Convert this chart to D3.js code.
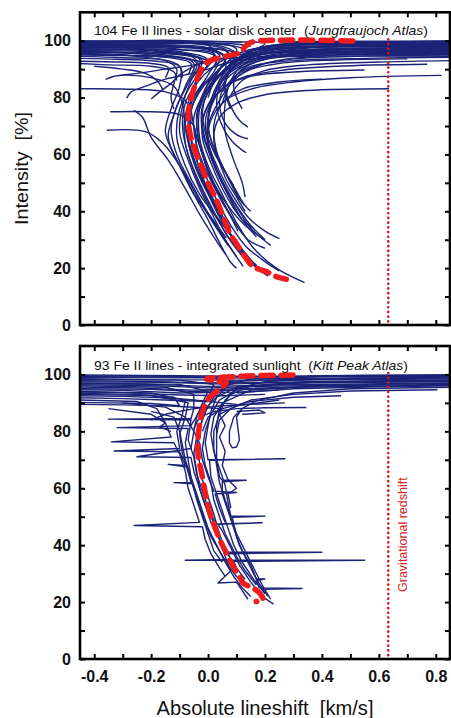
<!DOCTYPE html>
<html><head><meta charset="utf-8">
<script src="https://cdn.jsdelivr.net/npm/d3@7"></script>
<style>html,body{margin:0;padding:0;background:#fff;}svg{display:block;}text{white-space:pre;}</style>
</head><body>
<script>
// ---------------- DATA ----------------
const xDomain = [-0.45, 0.85];
const yDomain = [0, 110];
const xTickValues = [-0.4,-0.3,-0.2,-0.1,0,0.1,0.2,0.3,0.4,0.5,0.6,0.7,0.8];
const xTickLabels = ["-0.4","","-0.2","","0.0","","0.2","","0.4","","0.6","","0.8"];
const yTickValues = [0,10,20,30,40,50,60,70,80,90,100];
const yTickLabels = ["0","","20","","40","","60","","80","","100"];
const gravRedshift = 0.633;
const titles = [
  {lead: "104 Fe II lines - solar disk center  (", ital: "Jungfraujoch Atlas", tail: ")"},
  {lead: "93 Fe II lines - integrated sunlight  (", ital: "Kitt Peak Atlas", tail: ")"}
];
const xLabel = "Absolute lineshift  [km/s]";
const yLabel = "Intensity  [%]";
const gravLabel = "Gravitational redshift";

// mean bisector, disk center (km/s, %)
const topMean = [[0.508,99.9],[0.158,99.6],[0.134,98.3],[0.111,95.8],[0.064,94.6],[-0.006,92.3],[-0.029,88.8],[-0.047,84.0],[-0.064,78.2],[-0.070,73.4],[-0.064,67.6],[-0.047,61.7],[-0.023,55.8],[0.0,50.0],[0.029,44.1],[0.053,38.2],[0.076,32.3],[0.099,28.8],[0.129,24.1],[0.158,20.6],[0.204,18.8],[0.24,17.0],[0.275,16.1]];
// mean bisector, integrated sunlight
const bottomMean = [[0.298,99.8],[0.10,99.3],[-0.006,98.4],[0.03,97.6],[0.064,97.2],[0.041,94.9],[0.006,92.0],[-0.017,87.8],[-0.029,83.1],[-0.035,77.2],[-0.035,71.4],[-0.023,65.5],[-0.012,59.6],[0.0,53.7],[0.018,47.9],[0.041,42.0],[0.064,37.3],[0.088,32.6],[0.111,29.0],[0.123,26.7],[0.158,24.9],[0.181,23.2],[0.193,20.8],[0.169,20.2]];

// individual bisectors, disk center
const topBisectors = [
 [[0.85,97.5],[0.4,97],[0.15,95],[0.05,91],[0.0,85],[-0.03,76],[-0.03,66],[0.0,56],[0.05,46],[0.1,36],[0.16,27],[0.24,20],[0.339,14.9]],
 [[-0.45,98.5],[-0.1,98],[0.05,95],[0.06,90],[-0.02,84],[-0.06,75],[-0.06,65],[-0.03,55],[0.01,45],[0.06,35],[0.11,27],[0.16,21],[0.21,17.2]],
 [[-0.45,97],[-0.15,96],[-0.02,93],[-0.06,86],[-0.09,77],[-0.1,68],[-0.07,58],[-0.03,48],[0.02,38],[0.06,30],[0.1,24],[0.123,20.6]],
 [[0.85,99],[0.3,98.5],[0.12,96],[0.04,90],[-0.03,82],[-0.07,72],[-0.05,62],[-0.02,52],[0.03,42],[0.07,33],[0.12,26],[0.17,21]],
 [[-0.45,99],[0.0,98.5],[0.02,94],[-0.05,86],[-0.1,76],[-0.11,66],[-0.08,56],[-0.03,46],[0.03,38],[0.088,30.6]],
 [[-0.45,96],[-0.2,95],[-0.05,92],[-0.08,84],[-0.12,74],[-0.14,66],[-0.1,56],[-0.05,46],[0.01,38],[0.064,30.6]],
 [[0.85,96.5],[0.5,96],[0.2,94],[0.08,89],[0.02,81],[-0.02,72],[0.0,62],[0.04,52],[0.08,44],[0.12,37],[0.17,31]],
 [[-0.45,98],[0.0,97.5],[0.06,94],[0.03,88],[-0.02,80],[-0.04,70],[-0.02,60],[0.02,50],[0.07,42],[0.12,36],[0.199,29.9]],
 [[0.85,98.5],[0.4,98],[0.17,96],[0.07,91],[0.01,84],[-0.02,75],[0.0,64],[0.04,54],[0.09,45],[0.14,38],[0.2,33],[0.251,30.4]],
 [[0.85,97],[0.35,96.5],[0.15,94],[0.06,88],[0.02,80],[0.0,70],[0.03,60],[0.07,52],[0.1,46],[0.12,43],[0.134,41.7]],
 [[-0.45,97.5],[-0.1,97],[0.03,94],[0.0,88],[-0.05,80],[-0.08,71],[-0.06,61],[-0.02,51],[0.03,41],[0.08,32],[0.15,23]],
 [[-0.356,68.5],[-0.22,68],[-0.16,64],[-0.1,56],[-0.05,46],[0.0,37],[0.04,29],[0.08,22],[0.1,20]],
 [[-0.26,75.5],[-0.23,73],[-0.2,66],[-0.14,58],[-0.08,48],[-0.03,39],[0.02,31],[0.06,25]],
 [[-0.45,95.5],[-0.25,94.5],[-0.1,91],[-0.1,84],[-0.13,76],[-0.15,68],[-0.12,60],[-0.07,51],[-0.02,42],[0.03,34],[0.07,28]],
 [[0.85,95.5],[0.45,95],[0.2,92],[0.1,87],[0.04,79],[0.0,70],[0.01,60],[0.05,50],[0.1,42],[0.15,35],[0.2,30]],
 [[-0.45,99.2],[-0.05,99],[0.07,96],[0.04,90],[-0.01,83],[-0.04,74],[-0.03,64],[0.0,54],[0.04,45],[0.08,38],[0.105,33]],
 [[0.85,98],[0.3,97.5],[0.14,95],[0.08,90],[0.06,84],[0.08,77],[0.11,72],[0.14,69.6]],
 [[-0.45,97.8],[0.0,97],[0.08,93],[0.06,86],[0.04,78],[0.06,71],[0.1,67],[0.14,65.5]],
 [[0.85,97.8],[0.3,97],[0.12,93],[0.05,86],[0.03,78],[0.05,70],[0.09,64],[0.12,61.5],[0.134,60.6]],
 [[0.85,96],[0.3,95.5],[0.13,92],[0.08,86],[0.06,78],[0.06,68],[0.09,58],[0.12,50],[0.13,45]],
 [[0.636,83.1],[0.35,82.5],[0.2,81],[0.1,78],[0.04,73],[0.02,65],[0.05,56],[0.09,48],[0.11,44]],
 [[0.82,87.8],[0.5,87],[0.3,85.5],[0.15,83],[0.06,79],[0.01,72],[0.0,63],[0.03,54],[0.07,46],[0.1,40]],
 [[0.77,91.7],[0.45,91],[0.25,89.5],[0.12,87],[0.04,82],[-0.01,75],[-0.02,66],[0.01,57],[0.05,48],[0.09,41],[0.12,37]],
 [[0.55,89.7],[0.3,89],[0.15,87.5],[0.06,84],[0.01,78],[-0.01,70],[0.02,61],[0.06,54],[0.09,49]],
 [[-0.45,83.1],[-0.3,83],[-0.15,82],[-0.08,79],[-0.06,73],[-0.07,65],[-0.05,57],[-0.01,48],[0.04,40],[0.08,34]],
 [[-0.344,75],[-0.2,75],[-0.1,74],[-0.05,70],[-0.04,63],[-0.01,55],[0.03,47],[0.07,40],[0.1,35]],
 [[-0.36,86.4],[-0.33,87.5],[-0.25,88.5],[-0.15,90],[-0.05,91.5],[0.02,93],[0.1,95],[0.3,96],[0.85,96.5]],
 [[-0.286,79.8],[-0.27,82],[-0.22,84],[-0.15,86.5],[-0.08,88],[0.0,90],[0.06,92],[0.2,94],[0.85,94.5]],
 [[-0.2,79.5],[-0.17,82],[-0.13,85],[-0.1,88],[-0.05,91],[0.0,93],[0.1,94],[0.4,95],[0.85,95.2]],
 [[-0.45,99.8],[0.1,99.6],[0.2,99],[0.15,96],[0.08,92],[0.04,86],[0.02,80]],
 [[-0.45,98.8],[0.05,98],[0.1,95],[0.06,90],[0.0,83],[-0.03,76]],
 [[-0.45,96.5],[-0.2,96],[-0.05,94],[-0.03,90],[-0.05,84],[-0.07,78]],
 [[-0.45,94.5],[-0.3,94],[-0.15,93],[-0.11,90],[-0.12,85],[-0.13,80],[-0.12,76]],
 [[0.85,99.5],[0.4,99.2],[0.2,98],[0.12,95],[0.08,91],[0.06,86]],
 [[0.85,98.8],[0.3,98.4],[0.16,97],[0.1,93],[0.03,87],[0.0,80]],
 [[0.85,97.2],[0.5,96.8],[0.25,95.5],[0.12,92],[0.07,88],[0.06,82],[0.08,76]],
 [[0.85,99.8],[0.6,99.6],[0.3,99.2],[0.2,98]],
 [[-0.45,97.2],[-0.25,96.8],[-0.08,95.5],[0.0,93]],
 [[-0.45,92],[-0.35,91.5],[-0.2,91],[-0.12,89],[-0.11,86]],
 [[0.85,93],[0.6,92.5],[0.35,91.5],[0.2,89.5],[0.12,86],[0.08,81]],
 [[-0.45,99.3],[-0.2,99.1],[0.05,98.8],[0.12,97.5]],
 [[-0.45,98.2],[-0.2,97.9],[0.02,97.2],[0.1,96]],
 [[-0.45,95],[-0.3,94.8],[-0.1,94],[0.0,92]],
 [[0.85,99.2],[0.5,98.9],[0.25,98],[0.15,96.5]],
 [[0.85,96.8],[0.6,96.5],[0.35,96],[0.18,94]],
 [[-0.4,91],[-0.3,90],[-0.22,88.5],[-0.18,86],[-0.16,83]],
 [[0.85,94.2],[0.55,93.8],[0.3,93],[0.15,91],[0.1,88],[0.09,84],[0.1,80],[0.12,76]],
 [[-0.45,99.6],[-0.1,99.4],[0.08,99],[0.15,98]],
 [[-0.45,98.6],[-0.25,98.4],[-0.05,97.8],[0.06,96.5],[0.08,94]],
 [[-0.45,97.6],[-0.3,97.4],[-0.1,96.8],[0.02,95.5],[0.03,92]],
 [[-0.45,96.2],[-0.3,96],[-0.12,95.2],[-0.03,93.5],[-0.04,89]],
 [[-0.45,95.2],[-0.25,94.8],[-0.12,93.8],[-0.06,92],[-0.07,88]],
 [[-0.45,93.8],[-0.32,93.5],[-0.18,92.8],[-0.1,91],[-0.09,87]],
 [[-0.45,92.8],[-0.3,92.5],[-0.2,92],[-0.14,90.5],[-0.15,87]],
 [[-0.45,99.9],[0.0,99.8],[0.12,99.5]],
 [[0.85,99.6],[0.5,99.4],[0.3,98.8],[0.18,97.2],[0.12,94.5]],
 [[0.85,98.4],[0.6,98.2],[0.35,97.6],[0.2,96.2],[0.12,93]],
 [[0.85,97.6],[0.55,97.3],[0.3,96.6],[0.18,95],[0.1,91.5],[0.06,88]],
 [[0.85,96.2],[0.6,95.9],[0.35,95.2],[0.2,93.5],[0.12,90],[0.08,85]],
 [[0.85,95],[0.55,94.6],[0.3,93.6],[0.18,91.5],[0.1,88],[0.05,82]],
 [[0.7,93.6],[0.45,93.2],[0.25,92],[0.14,89.5],[0.08,85],[0.05,78]],
 [[0.85,99.9],[0.5,99.8],[0.25,99.6]],
 [[0.85,98.2],[0.3,97.8],[0.1,95.5],[0.02,91],[-0.04,85],[-0.08,78],[-0.09,70],[-0.07,60],[-0.03,50],[0.02,40],[0.07,31],[0.12,25],[0.18,20]],
 [[-0.45,96.8],[-0.1,96.2],[0.0,93],[-0.03,87],[-0.06,80],[-0.05,70],[-0.02,60],[0.02,50],[0.06,42],[0.1,35],[0.14,30],[0.2,27]],
 [[-0.45,98.3],[-0.1,97.8],[0.04,95],[0.02,89],[-0.04,82],[-0.08,74],[-0.08,64],[-0.05,54],[-0.01,45],[0.04,36],[0.09,28],[0.14,22]],
 [[0.85,97.3],[0.35,96.8],[0.14,94.5],[0.05,89],[-0.01,82],[-0.05,73],[-0.04,63],[-0.01,53],[0.03,44],[0.08,35],[0.13,28],[0.19,23],[0.25,19]],
 [[-0.45,95.8],[-0.15,95],[-0.04,92],[-0.07,85],[-0.11,77],[-0.13,69],[-0.11,60],[-0.06,50],[-0.01,41],[0.04,33],[0.08,27],[0.1,24]],
 [[0.85,98.6],[0.4,98.2],[0.18,96.5],[0.09,92],[0.04,86],[0.01,79],[0.0,70],[0.02,62],[0.06,54],[0.1,47],[0.13,42],[0.15,40]],
 [[-0.45,99.4],[0.0,99.2],[0.1,97],[0.08,92],[0.02,85],[-0.02,77],[-0.02,68],[0.01,59],[0.05,50],[0.09,42],[0.12,37],[0.16,34]],
 [[0.85,95.8],[0.4,95.3],[0.18,93],[0.08,88],[0.03,81],[0.0,73],[0.0,64],[0.03,55],[0.07,47],[0.11,40],[0.15,34],[0.22,28]],
 [[-0.3,88],[-0.2,87],[-0.12,84],[-0.09,78],[-0.08,70],[-0.06,62],[-0.03,53],[0.01,44],[0.05,36],[0.09,30]],
 [[0.4,86.5],[0.25,85.5],[0.12,83],[0.05,78],[0.02,70],[0.03,61],[0.06,52],[0.1,45],[0.13,40]]
];

// individual bisectors, integrated sunlight
const bottomBisectors = [
 [[0.85,99.5],[0.4,99.2],[0.15,98.5],[0.06,96],[0.02,92],[-0.01,87],[-0.03,81],[-0.04,75],[-0.03,69],[-0.02,63],[0.0,57],[0.02,51],[0.03,47.5],[0.19,47.9],[0.035,47.3],[0.05,45],[0.08,39],[0.11,33],[0.15,27],[0.19,22],[0.23,19.3]],
 [[-0.45,98.5],[-0.1,98],[0.02,96.5],[0.0,92],[-0.03,87],[-0.06,82],[-0.32,81.3],[-0.07,81],[-0.08,76],[-0.07,70],[-0.06,64],[-0.04,58],[-0.02,52],[0.0,46],[0.03,40],[0.06,34],[0.09,29],[0.12,25],[0.15,22]],
 [[-0.45,91],[-0.25,90.5],[-0.18,88],[-0.15,83],[-0.13,78],[-0.34,76.3],[-0.12,76],[-0.1,72],[-0.08,66],[-0.07,60],[-0.05,54],[-0.03,48],[-0.26,46.9],[-0.02,46.5],[-0.01,42],[0.01,37],[0.04,32],[0.06,29]],
 [[0.85,97.5],[0.3,97],[0.1,95.5],[0.03,92],[0.01,87],[0.0,82],[-0.01,76],[0.0,70],[0.27,70.4],[0.005,69.8],[0.01,64],[0.03,58],[0.05,52],[0.07,46],[0.09,40],[0.12,34],[0.16,28],[0.2,23]],
 [[-0.45,96],[-0.15,95.5],[-0.05,93],[-0.05,88],[-0.06,84.5],[-0.35,84.3],[-0.06,84],[-0.07,77],[-0.05,71],[-0.04,65],[-0.02,59],[0.0,53],[0.03,47],[0.05,41],[0.06,37.5],[0.4,37.5],[0.07,37],[0.08,35],[0.1,32]],
 [[0.85,98],[0.35,97.5],[0.15,96],[0.08,93],[0.04,88],[0.03,82],[0.03,76],[0.03,70],[0.04,64],[0.05,62.8],[0.134,62.8],[0.05,62.3],[0.05,58],[0.07,52],[0.09,46],[0.11,40],[0.14,34],[0.17,28],[0.21,22]],
 [[-0.45,99.2],[0.0,99],[0.08,97.5],[0.05,94],[0.0,89],[-0.02,84],[-0.04,78],[-0.05,72],[-0.04,66],[-0.03,60],[-0.01,54],[0.01,48],[0.04,42],[0.07,37],[0.08,35],[-0.08,34.7],[0.55,34.7],[0.09,34.3],[0.1,32],[0.13,28]],
 [[0.85,95.5],[0.5,95],[0.3,93.5],[0.17,90.8],[0.12,88],[0.09,85],[0.075,80],[0.075,76],[0.085,74.2],[0.1,74.5],[0.11,77],[0.105,81],[0.1,85],[0.12,88]],
 [[-0.45,94],[-0.2,93.5],[-0.08,91],[-0.09,86],[-0.11,80],[-0.1,74],[-0.33,73.1],[-0.1,72.8],[-0.08,68],[-0.14,68.4],[-0.075,67.5],[-0.06,62],[-0.12,62],[-0.055,61.6],[-0.04,56],[-0.02,50],[0.0,44],[0.02,38],[0.05,34]],
 [[0.85,96.5],[0.4,96],[0.15,94.5],[0.05,90],[0.02,85],[0.01,79],[0.02,73],[0.04,67],[0.06,61],[0.07,55],[0.08,50.2],[0.2,50.2],[0.085,49.8],[0.1,43],[0.12,38],[0.15,33],[0.17,28.1],[0.2,28.1],[0.17,27.6],[0.18,25],[0.33,24.8],[0.19,24.5],[0.2,23]],
 [[-0.45,97],[-0.1,96.5],[0.0,94],[-0.02,90],[-0.04,85],[-0.05,80],[-0.06,74],[-0.25,71.1],[-0.06,70.8],[-0.05,66],[-0.03,60],[-0.01,54],[0.02,48],[0.04,42],[0.06,36],[0.08,31],[0.035,26.7],[0.1,27],[0.12,24],[0.14,21]],
 [[0.85,99],[0.5,98.7],[0.2,97.5],[0.1,95],[0.06,91],[0.04,86],[0.02,80],[0.02,74],[0.03,68],[0.04,62],[0.06,56],[0.08,50],[0.1,44],[0.13,38],[0.16,32],[0.19,26],[0.22,21]],
 [[0.806,94.6],[0.5,94.2],[0.3,93],[0.15,91],[0.08,88],[0.04,84],[0.03,79]],
 [[0.467,92.5],[0.3,92],[0.15,90.5],[0.05,88],[0.0,85],[-0.02,80]],
 [[0.345,88.4],[0.2,88.3],[0.1,88],[0.02,87],[-0.03,85],[-0.05,81]],
 [[0.27,90],[0.15,89.5],[0.05,89],[-0.05,88],[-0.15,86],[-0.2,84]],
 [[-0.45,89.5],[-0.3,89.3],[-0.15,89],[-0.05,88.5],[0.05,88]],
 [[-0.45,92.5],[-0.3,92.3],[-0.15,91.8],[-0.05,91],[0.05,90],[0.1,89.5]],
 [[-0.45,99.8],[-0.1,99.6],[0.1,99.4],[0.85,99.6]],
 [[-0.45,97.8],[-0.2,97.5],[0.0,97],[0.2,97.2],[0.85,97.8]],
 [[-0.45,95],[-0.2,94.8],[-0.05,94],[0.1,94.5],[0.3,95.5],[0.85,96.2]],
 [[-0.45,98.9],[0.0,98.8],[0.4,98.6],[0.85,98.7]],
 [[-0.35,88],[-0.2,86],[-0.15,83],[-0.17,81.5],[-0.13,80]],
 [[-0.45,93.3],[-0.25,93],[-0.12,92],[-0.1,89]],
 [[-0.45,96.8],[-0.2,96.5],[0.0,95.8],[0.3,96.4],[0.85,97]],
 [[-0.45,98.2],[-0.1,98.1],[0.1,98],[0.5,98.2],[0.85,98.4]],
 [[-0.45,94.6],[-0.3,94.4],[-0.1,93.5],[0.1,93.8],[0.25,94.5]],
 [[-0.45,90.2],[-0.35,90],[-0.2,89.8],[-0.1,89]],
 [[0.85,99.9],[0.55,99.7],[0.35,99.5]],
 [[0.12,86],[0.2,86.5],[0.18,87.5],[0.1,87]],
 [[-0.2,87],[-0.12,85],[-0.1,80],[-0.09,75],[-0.08,70],[-0.06,64]],
 [[-0.45,99.5],[-0.2,99.4],[0.0,99.1],[0.3,99.3],[0.85,99.3]],
 [[-0.45,97.4],[-0.15,97.2],[0.05,96.6],[0.4,97.4],[0.85,97.5]],
 [[-0.45,96.4],[-0.2,96.1],[0.0,95.3],[0.2,95.8],[0.6,96.5],[0.85,96.8]],
 [[-0.45,95.6],[-0.25,95.3],[-0.05,94.5],[0.1,95],[0.4,95.8]],
 [[-0.45,93.8],[-0.3,93.6],[-0.1,92.8],[0.05,92.5],[0.2,93]],
 [[-0.45,91.8],[-0.3,91.5],[-0.15,91],[0.0,90.5]],
 [[0.85,98.9],[0.5,98.6],[0.2,98],[0.05,97.5]],
 [[0.85,96],[0.6,95.7],[0.3,95],[0.1,93.5]],
 [[-0.45,93],[-0.2,92.6],[-0.07,90],[-0.08,85],[-0.1,79],[-0.09,72],[-0.07,66],[-0.05,60],[-0.03,54],[-0.01,48],[0.01,43],[0.04,38],[0.07,33],[0.1,29],[0.13,26]],
 [[0.85,97.8],[0.4,97.4],[0.12,95.8],[0.04,91],[0.01,86],[-0.01,80],[-0.02,74],[-0.01,68],[0.01,62],[0.02,56],[0.04,50],[0.06,44],[0.08,40],[0.1,36],[0.13,31],[0.17,26]],
 [[-0.3,90],[-0.15,88.5],[-0.08,85],[-0.05,80],[-0.03,76],[-0.02,70],[0.0,64],[0.02,59],[0.1,58.5],[0.025,58],[0.04,53],[0.06,48]],
 [[0.25,91],[0.1,89],[0.04,86],[0.06,82],[0.04,78],[0.06,73],[0.05,68],[0.07,63],[0.1,60],[0.07,58],[0.08,53]]
];

// ---------------- DRAW ----------------
const W = 451, H = 718;
const svg = d3.select("body").append("svg").attr("width", W).attr("height", H);
const FONT = "'Liberation Sans', Arial, Helvetica, sans-serif";
const navy = "#1b2378";

const panels = [
  {top: 12.3, bottom: 325, mean: topMean, lines: topBisectors, title: titles[0], titleY: 35, titleW: 334, smooth: true, grav: false},
  {top: 346, bottom: 659, mean: bottomMean, lines: bottomBisectors, title: titles[1], titleY: 369.5, titleW: 314, smooth: false, grav: true}
];
const left = 80, right = 450;
const x = d3.scaleLinear().domain(xDomain).range([left, right]);

panels.forEach((p, i) => {
  const y = d3.scaleLinear().domain(yDomain).range([p.bottom, p.top]);
  const g = svg.append("g");
  const clipId = "clip" + i;
  svg.append("clipPath").attr("id", clipId).append("rect")
    .attr("x", left).attr("y", p.top).attr("width", right - left).attr("height", p.bottom - p.top);

  const plot = g.append("g").attr("clip-path", `url(#${clipId})`);
  const line = d3.line().x(d => x(d[0])).y(d => y(d[1]))
    .curve(p.smooth ? d3.curveCatmullRom.alpha(0.5) : d3.curveLinear);

  plot.selectAll("path.bis").data(p.lines).join("path")
    .attr("class", "bis").attr("d", line)
    .attr("fill", "none").attr("stroke", navy).attr("stroke-width", 1.4)
    .attr("stroke-linejoin", "round");

  // gravitational redshift
  plot.append("line")
    .attr("x1", x(gravRedshift)).attr("x2", x(gravRedshift))
    .attr("y1", y(100.5)).attr("y2", y(0))
    .attr("stroke", "#d81818").attr("stroke-width", 2.6)
    .attr("stroke-dasharray", "0.1,4.6").attr("stroke-linecap", "round");

  // mean bisector
  const meanLine = d3.line().x(d => x(d[0])).y(d => y(d[1])).curve(d3.curveCatmullRom.alpha(0.5));
  plot.append("path").attr("d", meanLine(p.mean))
    .attr("fill", "none").attr("stroke", "#f01c1c").attr("stroke-width", 5.5)
    .attr("stroke-dasharray", "12,8").attr("stroke-linecap", "round").attr("stroke-linejoin", "round");

  // frame
  g.append("rect").attr("x", left).attr("y", p.top).attr("width", right - left).attr("height", p.bottom - p.top)
    .attr("fill", "none").attr("stroke", "#000").attr("stroke-width", 2.6);

  // ticks (inward) via axes
  const tl = 5;
  const axB = d3.axisBottom(x).tickValues(xTickValues).tickSize(-tl).tickFormat((d, k) => xTickLabels[k]).tickPadding(12);
  const axT = d3.axisTop(x).tickValues(xTickValues).tickSize(-tl).tickFormat("");
  const axL = d3.axisLeft(y).tickValues(yTickValues).tickSize(-tl).tickFormat((d, k) => yTickLabels[k]).tickPadding(9);
  const axR = d3.axisRight(y).tickValues(yTickValues).tickSize(-tl).tickFormat("");

  const gb = g.append("g").attr("transform", `translate(0,${p.bottom})`).call(axB);
  const gt = g.append("g").attr("transform", `translate(0,${p.top})`).call(axT);
  const gl = g.append("g").attr("transform", `translate(${left},0)`).call(axL);
  const gr = g.append("g").attr("transform", `translate(${right},0)`).call(axR);
  [gb, gt, gl, gr].forEach(a => {
    a.select(".domain").remove();
    a.selectAll(".tick line").attr("stroke", "#000").attr("stroke-width", 2);
    a.selectAll(".tick text").attr("font-family", FONT).attr("font-size", 16).attr("font-weight", "bold").attr("fill", "#111");
  });
  if (i === 0) gb.selectAll(".tick text").remove();
  gb.selectAll(".tick text").attr("dy", "0.71em");

  // panel title
  const t = g.append("text").attr("x", 94).attr("y", p.titleY)
    .attr("font-family", FONT).attr("font-size", 13).attr("fill", "#111")
    .attr("textLength", p.titleW).attr("lengthAdjust", "spacingAndGlyphs");
  t.append("tspan").text(p.title.lead);
  t.append("tspan").attr("font-style", "italic").text(p.title.ital);
  t.append("tspan").text(p.title.tail);

  if (p.grav) {
    g.append("text")
      .attr("transform", `translate(${x(gravRedshift) + 19},${y(43.7)}) rotate(-90)`)
      .attr("text-anchor", "middle")
      .attr("font-family", FONT).attr("font-size", 12.5).attr("fill", "#d42424")
      .text(gravLabel);
  }
  if (i === 0) {
    g.append("text")
      .attr("transform", `translate(27.5,168.5) rotate(-90)`)
      .attr("text-anchor", "middle")
      .attr("font-family", FONT).attr("font-size", 19).attr("fill", "#111")
      .attr("textLength", 113).attr("lengthAdjust", "spacingAndGlyphs")
      .text(yLabel);
  }
});

svg.append("text").attr("x", 265).attr("y", 715).attr("text-anchor", "middle")
  .attr("font-family", FONT).attr("font-size", 20).attr("fill", "#111")
  .attr("textLength", 217).attr("lengthAdjust", "spacingAndGlyphs")
  .text(xLabel);
</script>
</body></html>
